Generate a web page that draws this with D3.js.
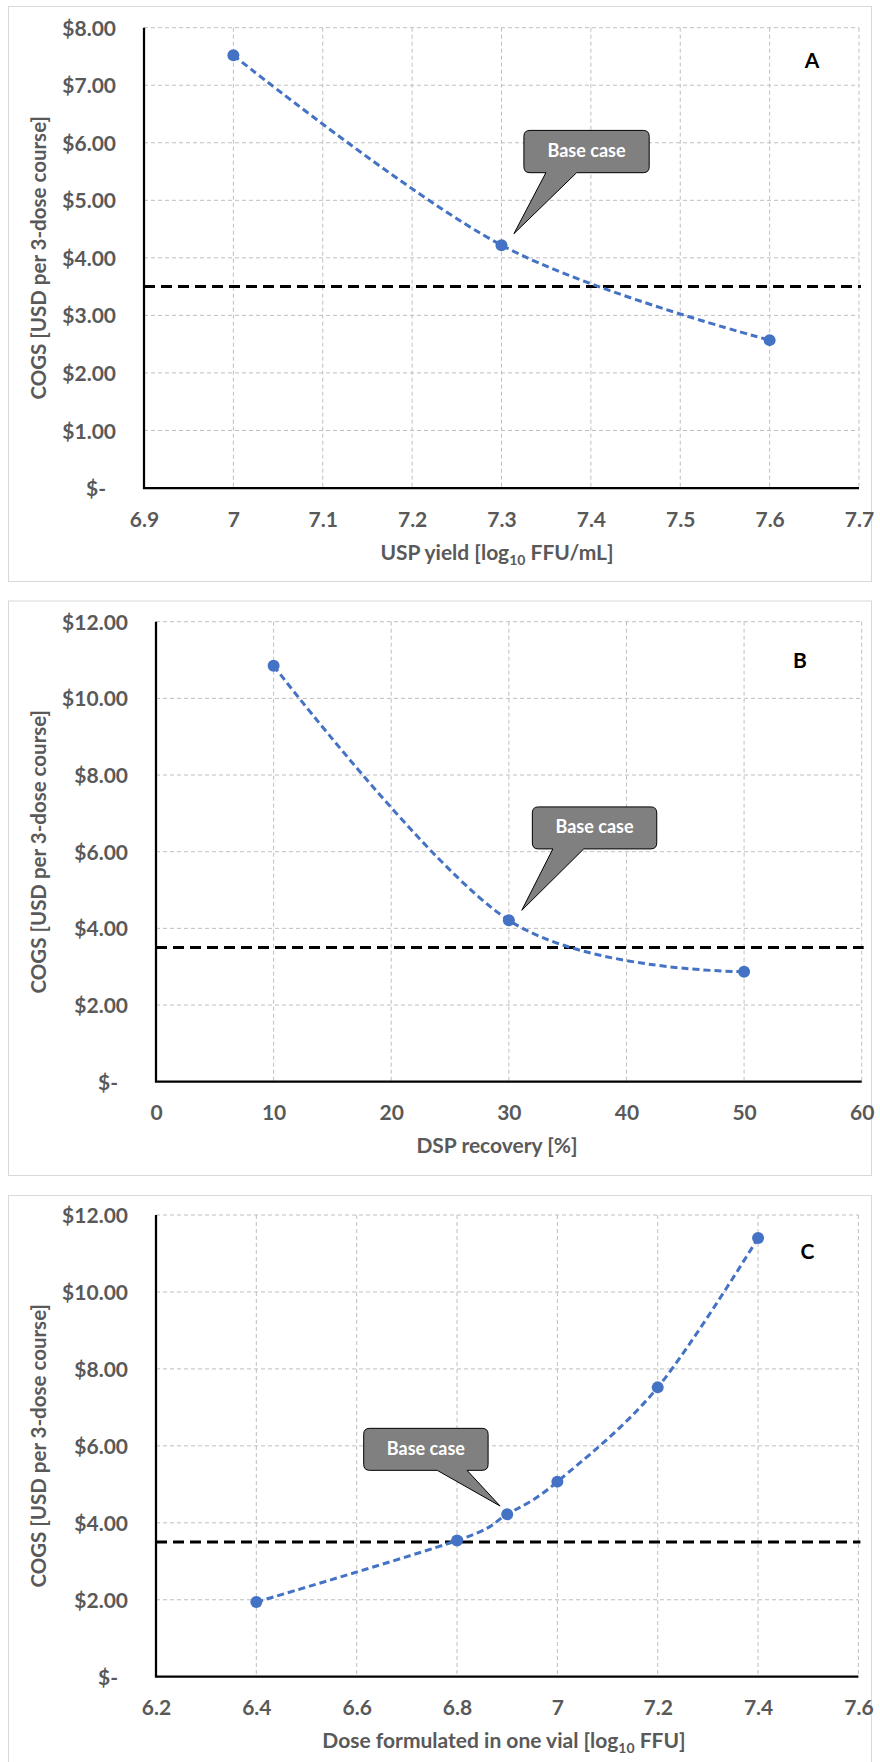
<!DOCTYPE html>
<html>
<head>
<meta charset="utf-8">
<script src="https://cdn.jsdelivr.net/npm/d3@7"></script>
<style>
  html, body { margin: 0; padding: 0; background: #ffffff; }
  svg { display: block; }
</style>
</head>
<body>
<script>
// ---------------- DATA ----------------
// Panel A: USP yield
const aX = [7.0, 7.3, 7.6];
const aY = [7.52, 4.22, 2.57];
const aXTicks = [6.9, 7.0, 7.1, 7.2, 7.3, 7.4, 7.5, 7.6, 7.7];
const aXTickLabels = ["6.9", "7", "7.1", "7.2", "7.3", "7.4", "7.5", "7.6", "7.7"];
const aYTicks = [0, 1, 2, 3, 4, 5, 6, 7, 8];
const aYTickLabels = ["$-", "$1.00", "$2.00", "$3.00", "$4.00", "$5.00", "$6.00", "$7.00", "$8.00"];

// Panel B: DSP recovery
const bX = [10, 30, 50];
const bY = [10.85, 4.21, 2.87];
const bXTicks = [0, 10, 20, 30, 40, 50, 60];
const bXTickLabels = ["0", "10", "20", "30", "40", "50", "60"];
const bYTicks = [0, 2, 4, 6, 8, 10, 12];
const bYTickLabels = ["$-", "$2.00", "$4.00", "$6.00", "$8.00", "$10.00", "$12.00"];

// Panel C: Dose formulated in one vial
const cX = [6.4, 6.8, 6.9, 7.0, 7.2, 7.4];
const cY = [1.94, 3.54, 4.22, 5.07, 7.52, 11.40];
const cXTicks = [6.2, 6.4, 6.6, 6.8, 7.0, 7.2, 7.4, 7.6];
const cXTickLabels = ["6.2", "6.4", "6.6", "6.8", "7", "7.2", "7.4", "7.6"];
const cYTicks = [0, 2, 4, 6, 8, 10, 12];
const cYTickLabels = bYTickLabels;

const targetCOGS = 3.5;            // black dashed reference line
const yTitle = "COGS [USD per 3-dose course]";
const baseCaseLabel = "Base case";
const panelLetters = ["A", "B", "C"];

// ---------------- DRAWING ----------------
const FONT = "Lato, 'Open Sans', sans-serif";
const GREY_TEXT = "#595959";
const BLUE = "#4472C4";

const svg = d3.select("body").append("svg")
  .attr("width", 880).attr("height", 1762)
  .style("font-family", FONT);

function drawPanel(cfg) {
  const g = svg.append("g");
  // chart border
  g.append("rect")
    .attr("x", cfg.box[0] + 0.5).attr("y", cfg.box[1] + 0.5)
    .attr("width", cfg.box[2] - cfg.box[0]).attr("height", cfg.box[3] - cfg.box[1])
    .attr("fill", "#fff").attr("stroke", "#d9d9d9").attr("stroke-width", 1);

  const x = d3.scaleLinear().domain([cfg.xTicks[0], cfg.xTicks[cfg.xTicks.length - 1]])
    .range([cfg.left, cfg.right]);
  const y = d3.scaleLinear().domain([cfg.yTicks[0], cfg.yTicks[cfg.yTicks.length - 1]])
    .range([cfg.bottom, cfg.top]);

  // gridlines
  const grid = g.append("g").attr("stroke", "#bfbfbf").attr("stroke-width", 1)
    .attr("stroke-dasharray", "4,3").attr("fill", "none");
  grid.selectAll("line.v").data(cfg.xTicks.slice(1)).join("line").attr("class", "v")
    .attr("x1", d => x(d)).attr("x2", d => x(d))
    .attr("y1", cfg.top).attr("y2", cfg.bottom);
  grid.selectAll("line.h").data(cfg.yTicks.slice(1)).join("line").attr("class", "h")
    .attr("x1", cfg.left).attr("x2", cfg.right)
    .attr("y1", d => y(d)).attr("y2", d => y(d));

  // x axis labels
  const xAxis = g.append("g").attr("transform", `translate(0,${cfg.bottom})`)
    .call(d3.axisBottom(x).tickValues(cfg.xTicks)
      .tickFormat((d, i) => cfg.xTickLabels[i]).tickSize(0));
  xAxis.select(".domain").remove();
  xAxis.selectAll("text").attr("y", 38.5).attr("dy", 0)
    .attr("font-family", FONT).attr("font-size", 21).attr("font-weight", 700)
    .attr("fill", GREY_TEXT);

  // y axis labels
  const yAxis = g.append("g").attr("transform", `translate(${cfg.left},0)`)
    .call(d3.axisLeft(y).tickValues(cfg.yTicks)
      .tickFormat((d, i) => cfg.yTickLabels[i]).tickSize(0));
  yAxis.select(".domain").remove();
  yAxis.selectAll("text").attr("x", d => d === 0 ? -38 : -28).attr("dy", "0.36em")
    .attr("font-family", FONT).attr("font-size", 21).attr("font-weight", 700)
    .attr("fill", GREY_TEXT);

  // axis lines
  g.append("path")
    .attr("d", `M${cfg.left},${cfg.top}V${cfg.bottom}H${cfg.right}`)
    .attr("fill", "none").attr("stroke", "#000").attr("stroke-width", 2.25);

  // target dashed line
  g.append("line")
    .attr("x1", cfg.left).attr("x2", cfg.right + 2)
    .attr("y1", y(targetCOGS)).attr("y2", y(targetCOGS))
    .attr("stroke", "#000").attr("stroke-width", 3).attr("stroke-dasharray", "11,6");

  // series
  const pts = cfg.xs.map((v, i) => [v, cfg.ys[i]]);
  const line = d3.line().x(d => x(d[0])).y(d => y(d[1])).curve(d3.curveCardinal.tension(0));
  g.append("path").attr("d", line(pts))
    .attr("fill", "none").attr("stroke", BLUE).attr("stroke-width", 3)
    .attr("stroke-dasharray", "7,4");
  g.selectAll("circle.pt").data(pts).join("circle").attr("class", "pt")
    .attr("cx", d => x(d[0])).attr("cy", d => y(d[1])).attr("r", 6)
    .attr("fill", BLUE);

  // callout anchored to the base case point
  const bp = pts[cfg.baseIndex];
  const px = x(bp[0]), py = y(bp[1]);
  const c = cfg.callout;
  const x0 = px + c.rect[0], x1 = px + c.rect[1], y0 = py + c.rect[2], y1 = py + c.rect[3];
  const r = 6;
  const bx0 = px + c.base[0], bx1 = px + c.base[1];
  const tx = px + c.tip[0], ty = py + c.tip[1];
  const p = `M${x0 + r},${y0}H${x1 - r}Q${x1},${y0} ${x1},${y0 + r}V${y1 - r}Q${x1},${y1} ${x1 - r},${y1}`
    + `H${bx1}L${tx},${ty}L${bx0},${y1}H${x0 + r}Q${x0},${y1} ${x0},${y1 - r}V${y0 + r}Q${x0},${y0} ${x0 + r},${y0}Z`;
  g.append("path").attr("d", p).attr("fill", "#808080").attr("stroke", "#000").attr("stroke-width", 1);
  g.append("text").attr("x", (x0 + x1) / 2).attr("y", (y0 + y1) / 2 - 1).attr("dy", "0.36em")
    .attr("text-anchor", "middle").attr("font-size", 18).attr("font-weight", 700)
    .attr("fill", "#fff").text(baseCaseLabel);

  // panel letter
  g.append("text").attr("x", cfg.letterPos[0]).attr("y", cfg.letterPos[1]).attr("dy", "0.36em")
    .attr("text-anchor", "middle").attr("font-size", 21).attr("font-weight", 700)
    .attr("fill", "#000").text(cfg.letter);

  // y title
  g.append("text")
    .attr("transform", `translate(46,${(cfg.top + cfg.bottom) / 2}) rotate(-90)`)
    .attr("text-anchor", "middle").attr("font-size", 20.5).attr("font-weight", 700)
    .attr("fill", GREY_TEXT).text(yTitle);

  // x title (with optional subscript)
  const t = g.append("text")
    .attr("x", cfg.xTitleX).attr("y", cfg.bottom + 71.5)
    .attr("text-anchor", "middle").attr("font-size", 21).attr("font-weight", 700)
    .attr("fill", GREY_TEXT);
  t.append("tspan").text(cfg.xTitle[0]);
  if (cfg.xTitle.length > 1) {
    t.append("tspan").attr("font-size", 14).attr("dy", 5).text(cfg.xTitle[1]);
    t.append("tspan").attr("dy", -5).text(cfg.xTitle[2]);
  }
}

drawPanel({
  box: [8, 6, 871, 581], left: 144, right: 859, top: 27.7, bottom: 488,
  xs: aX, ys: aY, xTicks: aXTicks, xTickLabels: aXTickLabels,
  yTicks: aYTicks, yTickLabels: aYTickLabels, baseIndex: 1,
  callout: { rect: [22.4, 147.7, -114.8, -72.5], base: [44.4, 75.1], tip: [12.4, -11.5] },
  letter: panelLetters[0], letterPos: [812, 60],
  xTitle: ["USP yield [log", "10", " FFU/mL]"], xTitleX: 497
});

drawPanel({
  box: [8, 600.5, 871, 1175], left: 156, right: 861.7, top: 621.7, bottom: 1081.7,
  xs: bX, ys: bY, xTicks: bXTicks, xTickLabels: bXTickLabels,
  yTicks: bYTicks, yTickLabels: bYTickLabels, baseIndex: 1,
  callout: { rect: [23.5, 147.9, -113.4, -71.4], base: [44, 74.9], tip: [12.9, -10] },
  letter: panelLetters[1], letterPos: [800, 660],
  xTitle: ["DSP recovery [%]"], xTitleX: 497
});

drawPanel({
  box: [8, 1195, 871, 1775], left: 156, right: 858.4, top: 1215, bottom: 1676.7,
  xs: cX, ys: cY, xTicks: cXTicks, xTickLabels: cXTickLabels,
  yTicks: cYTicks, yTickLabels: cYTickLabels, baseIndex: 2,
  callout: { rect: [-143.5, -19.1, -86, -44], base: [-70, -40.2], tip: [-7.1, -8.3] },
  letter: panelLetters[2], letterPos: [807.5, 1251],
  xTitle: ["Dose formulated in one vial [log", "10", " FFU]"], xTitleX: 504
});
</script>
</body>
</html>
